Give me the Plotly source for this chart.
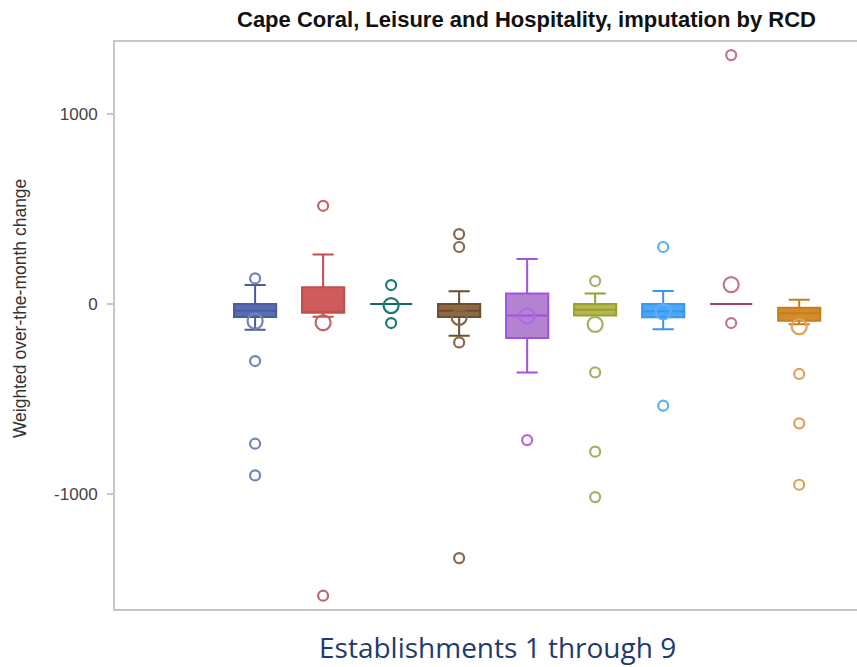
import plotly.graph_objects as go

# Establishment positions along the x axis
positions = [1, 2, 3, 4, 5, 6, 7, 8, 9]

# Box statistics per establishment
q1 = [-68, -46, 0, -68, -179, -60, -70, 0, -88]
median = [-35, -40, 0, -35, -60, -30, -38, 0, -49]
q3 = [0, 88, 0, 0, 56, 0, 0, 0, -19]
lower_whisker = [-135, -67, 0, -167, -360, -60, -133, 0, -107]
upper_whisker = [100, 260, 0, 67, 237, 56, 68, 0, 23]
means = [-90, -98, -8, -70, -63, -107, -40, 102, -119]

# Outlying observations per establishment
outliers = [
    [135, -300, -735, -902],
    [517, -1535],
    [100, -100],
    [368, 300, -202, -1337],
    [-716],
    [121, -360, -777, -1016],
    [300, -535],
    [1310, -100],
    [-368, -628, -951],
]

fill_colors = ["#5a6cb0", "#d05b5b", "#1a7a70", "#8e6840", "#b383d2",
               "#b4b64e", "#4ea6f5", "#a84a70", "#d48b2a"]
line_colors = ["#4a5ca0", "#c24e4e", "#0f6e64", "#6e4e2e", "#a052e0",
               "#98a030", "#3796f2", "#a04068", "#c67d1e"]
point_colors = ["#7582bb", "#c06666", "#1c7a70", "#87684a", "#b766e2",
                "#a2b264", "#58aef8", "#c27494", "#e3a052"]

fig = go.Figure()

for i, x in enumerate(positions):
    fig.add_trace(go.Box(
        x=[x], q1=[q1[i]], median=[median[i]], q3=[q3[i]],
        lowerfence=[lower_whisker[i]], upperfence=[upper_whisker[i]],
        width=0.62, whiskerwidth=0.5,
        fillcolor=fill_colors[i], line=dict(color=line_colors[i], width=2),
        boxpoints=False, showlegend=False, hoverinfo="skip",
    ))
    fig.add_trace(go.Scatter(
        x=[x] * len(outliers[i]), y=outliers[i], mode="markers",
        marker=dict(symbol="circle-open", size=10, color=point_colors[i],
                    line=dict(width=2.2, color=point_colors[i])),
        showlegend=False, hoverinfo="skip",
    ))
    fig.add_trace(go.Scatter(
        x=[x], y=[means[i]], mode="markers",
        marker=dict(symbol="circle-open", size=15, color=point_colors[i],
                    line=dict(width=2.2, color=point_colors[i])),
        showlegend=False, hoverinfo="skip",
    ))

fig.update_layout(
    width=857, height=667,
    margin=dict(l=115, r=0, t=42, b=58),
    paper_bgcolor="white", plot_bgcolor="white",
    xaxis=dict(range=[-1.06, 9.85], showticklabels=False, ticks="",
               showgrid=False, zeroline=False, showline=True, mirror=True,
               linecolor="#c4c7cc", linewidth=2),
    yaxis=dict(range=[-1605, 1379], tickvals=[-1000, 0, 1000],
               ticktext=["-1000", "0", "1000"], showgrid=False, zeroline=False,
               showline=True, linecolor="#c4c7cc", linewidth=2,
               ticks="outside", ticklen=6, tickcolor="#c4c7cc", tickwidth=1.5,
               ticklabelstandoff=6,
               tickfont=dict(family="Liberation Sans, Arial", size=17, color="#444")),
    annotations=[
        dict(text="<b>Cape Coral, Leisure and Hospitality, imputation by RCD</b>",
             xref="paper", yref="paper", x=0.554, y=1.039,
             xanchor="center", yanchor="middle", showarrow=False,
             font=dict(family="Liberation Sans, Arial", size=22, color="#111")),
        dict(text="Weighted over-the-month change", textangle=-90,
             xref="paper", yref="paper", x=-0.128, y=0.529,
             xanchor="center", yanchor="middle", showarrow=False,
             font=dict(family="Liberation Sans, Arial", size=17.5, color="#333")),
        dict(text="Establishments 1 through 9",
             xref="paper", yref="paper", x=0.515, y=-0.067,
             xanchor="center", yanchor="middle", showarrow=False,
             font=dict(family="Open Sans", size=28, color="#1f3a6e")),
    ],
)

fig.write_html("out.html")
